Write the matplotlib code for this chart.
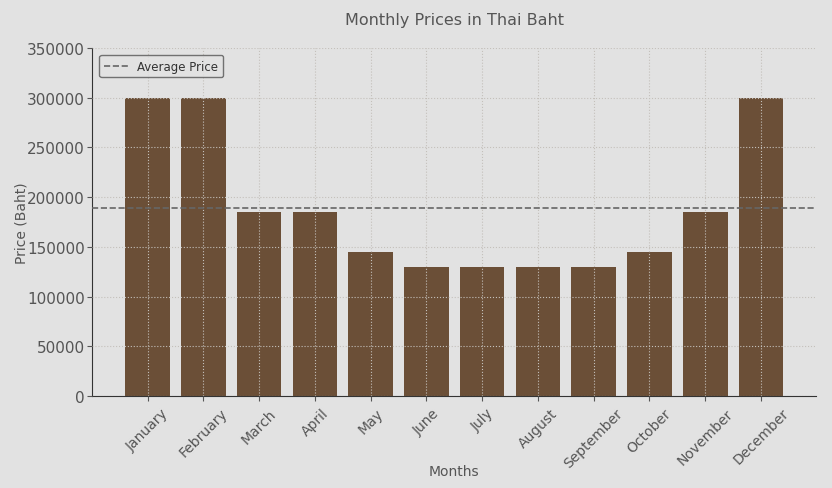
import numpy as np
import matplotlib
matplotlib.use("Agg")
from matplotlib import pyplot as plt

months = ["January", "February", "March", "April", "May", "June", "July",
          "August", "September", "October", "November", "December"]
prices = [300000, 300000, 185000, 185000, 145000, 130000, 130000,
          130000, 130000, 145000, 185000, 300000]
avg_price = np.mean(prices)

bg = "#e2e2e2"
txt = "#555555"

fig = plt.figure(figsize=(8.32, 4.89), dpi=100, facecolor=bg)
ax = fig.add_axes([0.111, 0.188, 0.87, 0.712], facecolor=bg)

ax.bar(months, prices, width=0.8, color="#6b4f37", zorder=2)
ax.axhline(avg_price, color="#666666", linestyle="--", linewidth=1.2,
           label="Average Price", zorder=3)

ax.set_ylim(0, 350000)
ax.set_yticks(np.arange(0, 350001, 50000))
ax.grid(True, color="#c4c0bb", linestyle=":", linewidth=0.8, zorder=2.5)
ax.set_axisbelow(False)

ax.set_title("Monthly Prices in Thai Baht", color=txt, fontsize=11.5, pad=17)
ax.set_xlabel("Months", color=txt, fontsize=10, labelpad=-4)
ax.set_ylabel("Price (Baht)", color=txt, fontsize=10, labelpad=-1)
ax.tick_params(colors=txt, labelsize=10)
ax.tick_params(axis="y", pad=2, labelsize=11)
plt.setp(ax.get_xticklabels(), rotation=45)

for s in ["top", "right"]:
    ax.spines[s].set_visible(False)
for s in ["left", "bottom"]:
    ax.spines[s].set_color("#333333")

leg = ax.legend(loc="upper left", fontsize=8.5, facecolor=bg, edgecolor="#555555",
                fancybox=True, borderaxespad=0.6)
for t in leg.get_texts():
    t.set_color("#333333")

fig.savefig("out.png", dpi=100, facecolor=bg)
